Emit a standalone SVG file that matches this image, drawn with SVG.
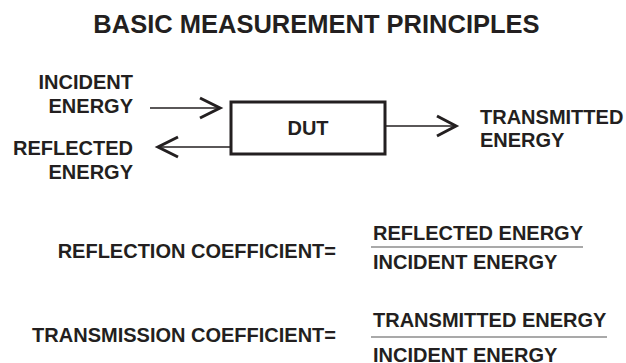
<svg xmlns="http://www.w3.org/2000/svg" width="626" height="363" viewBox="0 0 626 363">
<style>
text{font-family:"Liberation Sans",Arial,sans-serif;font-weight:bold;fill:#231f20;font-size:20px}
.t{font-size:25.5px}
.r{text-anchor:end}
.ln{stroke:#231f20;stroke-width:1.4;fill:none}
.hd{stroke:#231f20;stroke-width:3;fill:none;stroke-linejoin:miter;stroke-linecap:butt}
.fr{stroke:#555;stroke-width:1.2}
</style>
<rect width="626" height="363" fill="#fff"/>
<text class="t" x="316.5" y="33" text-anchor="middle">BASIC MEASUREMENT PRINCIPLES</text>
<g id="dut">
<rect x="231" y="102" width="154" height="52" fill="none" stroke="#231f20" stroke-width="3"/>
<text x="308" y="135" text-anchor="middle">DUT</text>
</g>
<g id="incident">
<text class="r" x="133" y="89">INCIDENT</text>
<text class="r" x="133" y="113">ENERGY</text>
</g>
<g id="reflected">
<text class="r" x="133" y="155">REFLECTED</text>
<text class="r" x="133" y="179">ENERGY</text>
</g>
<g id="transmitted">
<text x="480" y="124">TRANSMITTED</text>
<text x="480" y="147">ENERGY</text>
</g>
<g id="connectors">
<line class="ln" x1="150" y1="108" x2="220" y2="108"/>
<polyline class="hd" points="200,98 220,108 200,118"/>
<line class="ln" x1="231" y1="147" x2="160" y2="147"/>
<polyline class="hd" points="178,137 158,147 178,157"/>
<line class="ln" x1="385" y1="126" x2="454" y2="126"/>
<polyline class="hd" points="437,116 456,126 437,136"/>
</g>
<g id="formula1">
<text class="r" x="336" y="258">REFLECTION COEFFICIENT=</text>
<text x="373" y="240">REFLECTED ENERGY</text>
<line class="fr" x1="371" y1="247" x2="583" y2="247"/>
<text x="373" y="269">INCIDENT ENERGY</text>
</g>
<g id="formula2">
<text class="r" x="336" y="342">TRANSMISSION COEFFICIENT=</text>
<text x="373" y="327">TRANSMITTED ENERGY</text>
<line class="fr" x1="371" y1="337" x2="607" y2="337"/>
<text x="373" y="362">INCIDENT ENERGY</text>
</g>
</svg>
